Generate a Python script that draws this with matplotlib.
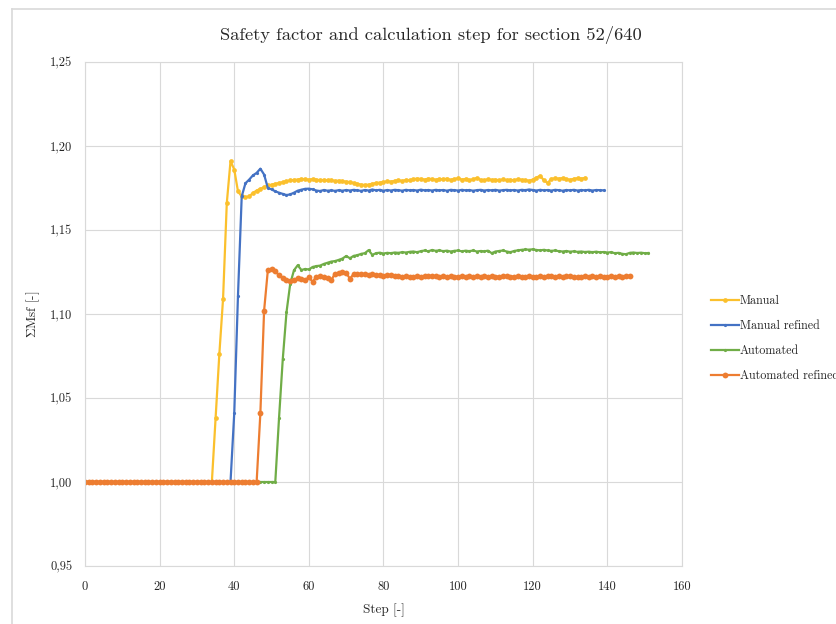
import matplotlib
matplotlib.use("Agg")
import matplotlib.pyplot as plt
from matplotlib.lines import Line2D
from matplotlib.ticker import FuncFormatter

plt.rcParams["font.family"] = ["cmr10", "DejaVu Serif"]
plt.rcParams["mathtext.fontset"] = "cm"
plt.rcParams["axes.formatter.use_mathtext"] = True

# Sum of safety factors per calculation step, section 52/640
manual_sf = [
    1.000, 1.000, 1.000, 1.000, 1.000, 1.000, 1.000, 1.000, 1.000, 1.000,
    1.000, 1.000, 1.000, 1.000, 1.000, 1.000, 1.000, 1.000, 1.000, 1.000,
    1.000, 1.000, 1.000, 1.000, 1.000, 1.000, 1.000, 1.000, 1.000, 1.000,
    1.000, 1.000, 1.000, 1.000, 1.000, 1.038, 1.076, 1.109, 1.166, 1.191,
    1.186, 1.173, 1.170, 1.1695, 1.170, 1.172, 1.1735, 1.1745, 1.1755, 1.1765,
    1.177, 1.1775, 1.178, 1.1785, 1.179, 1.1795, 1.1798, 1.180, 1.1804, 1.1802,
    1.180, 1.1803, 1.180, 1.1796, 1.1798, 1.1795, 1.1796, 1.1792, 1.1794, 1.179,
    1.1788, 1.1785, 1.178, 1.1775, 1.177, 1.1768, 1.177, 1.1775, 1.178, 1.1782,
    1.1785, 1.179, 1.1788, 1.1793, 1.1795, 1.1792, 1.1798, 1.1796, 1.1802, 1.1806,
    1.1804, 1.180, 1.1806, 1.1803, 1.1799, 1.1804, 1.1801, 1.1806, 1.1798, 1.1803,
    1.1808, 1.180, 1.1804, 1.1797, 1.1802, 1.181, 1.1799, 1.1795, 1.1803, 1.1798,
    1.180, 1.1796, 1.1801, 1.1797, 1.1799, 1.1795, 1.1803, 1.1799, 1.1797, 1.1793,
    1.180, 1.1812, 1.1823, 1.1795, 1.178, 1.1805, 1.1807, 1.1806, 1.1809, 1.1803,
    1.1799, 1.1805, 1.1808, 1.1806, 1.181,
]

manual_refined_sf = [
    1.000, 1.000, 1.000, 1.000, 1.000, 1.000, 1.000, 1.000, 1.000, 1.000,
    1.000, 1.000, 1.000, 1.000, 1.000, 1.000, 1.000, 1.000, 1.000, 1.000,
    1.000, 1.000, 1.000, 1.000, 1.000, 1.000, 1.000, 1.000, 1.000, 1.000,
    1.000, 1.000, 1.000, 1.000, 1.000, 1.000, 1.000, 1.000, 1.000, 1.000,
    1.041, 1.111, 1.170, 1.1778, 1.180, 1.1825, 1.184, 1.1865, 1.183, 1.175,
    1.1742, 1.173, 1.1722, 1.1715, 1.1708, 1.1712, 1.1722, 1.1734, 1.174, 1.1745,
    1.1746, 1.1742, 1.1735, 1.1732, 1.1738, 1.1734, 1.1736, 1.1733, 1.1737, 1.1734,
    1.1738, 1.1735, 1.1739, 1.1736, 1.1733, 1.1738, 1.1735, 1.1741, 1.1736, 1.1739,
    1.1734, 1.1738, 1.1735, 1.1739, 1.1737, 1.1734, 1.1739, 1.1736, 1.1738, 1.1735,
    1.174, 1.1736, 1.1738, 1.1735, 1.1739, 1.1736, 1.1738, 1.1734, 1.1739, 1.1737,
    1.1735, 1.1739, 1.1736, 1.1738, 1.1734, 1.1737, 1.1739, 1.1735, 1.1738, 1.1736,
    1.1739, 1.1735, 1.1737, 1.1739, 1.1736, 1.1738, 1.1735, 1.1739, 1.1737, 1.1741,
    1.1738, 1.1735, 1.1739, 1.1736, 1.1738, 1.1735, 1.1739, 1.1737, 1.1734, 1.1738,
    1.1736, 1.1739, 1.1735, 1.1738, 1.1736, 1.1739, 1.1735, 1.1738, 1.1737, 1.1736,
]

automated_sf = [
    1.000, 1.000, 1.000, 1.000, 1.000, 1.000, 1.000, 1.000, 1.000, 1.000,
    1.000, 1.000, 1.000, 1.000, 1.000, 1.000, 1.000, 1.000, 1.000, 1.000,
    1.000, 1.000, 1.000, 1.000, 1.000, 1.000, 1.000, 1.000, 1.000, 1.000,
    1.000, 1.000, 1.000, 1.000, 1.000, 1.000, 1.000, 1.000, 1.000, 1.000,
    1.000, 1.000, 1.000, 1.000, 1.000, 1.000, 1.000, 1.000, 1.000, 1.000,
    1.000, 1.000, 1.038, 1.073, 1.101, 1.118, 1.126, 1.129, 1.1262, 1.1268,
    1.1265, 1.128, 1.1285, 1.1288, 1.1298, 1.1305, 1.1312, 1.1315, 1.1322, 1.133,
    1.1345, 1.1332, 1.1346, 1.135, 1.1358, 1.1362, 1.138, 1.1352, 1.1362, 1.1365,
    1.136, 1.1364, 1.1362, 1.1366, 1.1364, 1.1368, 1.1366, 1.137, 1.1372, 1.1368,
    1.1374, 1.1378, 1.1373, 1.1381, 1.1376, 1.1379, 1.1374, 1.1377, 1.1372, 1.1376,
    1.1378, 1.1373, 1.1377, 1.1374, 1.1378, 1.1372, 1.1375, 1.1373, 1.1377, 1.1362,
    1.1372, 1.1375, 1.1378, 1.1372, 1.1368, 1.1375, 1.1379, 1.1382, 1.1384, 1.1383,
    1.1385, 1.1381, 1.1379, 1.1382, 1.1378, 1.1376, 1.1378, 1.1374, 1.1372, 1.1375,
    1.1371, 1.1373, 1.137, 1.1372, 1.1369, 1.1371, 1.1368, 1.1371, 1.1367, 1.1369,
    1.1366, 1.1368, 1.1362, 1.1364, 1.1358, 1.1356, 1.1364, 1.1366, 1.1363, 1.1365,
    1.1362, 1.1363,
]

automated_refined_sf = [
    1.000, 1.000, 1.000, 1.000, 1.000, 1.000, 1.000, 1.000, 1.000, 1.000,
    1.000, 1.000, 1.000, 1.000, 1.000, 1.000, 1.000, 1.000, 1.000, 1.000,
    1.000, 1.000, 1.000, 1.000, 1.000, 1.000, 1.000, 1.000, 1.000, 1.000,
    1.000, 1.000, 1.000, 1.000, 1.000, 1.000, 1.000, 1.000, 1.000, 1.000,
    1.000, 1.000, 1.000, 1.000, 1.000, 1.000, 1.000, 1.041, 1.102, 1.126,
    1.127, 1.1255, 1.123, 1.1215, 1.120, 1.1198, 1.1205, 1.1212, 1.1208, 1.1202,
    1.1218, 1.1192, 1.1222, 1.1225, 1.1218, 1.1215, 1.1202, 1.124, 1.1246, 1.1248,
    1.1245, 1.121, 1.1238, 1.124, 1.1236, 1.1238, 1.1234, 1.1236, 1.1233, 1.1231,
    1.1228, 1.1234, 1.1231, 1.1224, 1.1226, 1.1222, 1.1225, 1.1218, 1.1223, 1.1226,
    1.1222, 1.1225, 1.1224, 1.1228, 1.1224, 1.1221, 1.1225, 1.1222, 1.1226, 1.1223,
    1.1221, 1.1224, 1.1222, 1.1226, 1.1223, 1.1224, 1.1221, 1.1225, 1.1222, 1.1226,
    1.1223, 1.1221, 1.1224, 1.1227, 1.1223, 1.1222, 1.1225, 1.1223, 1.1221, 1.1224,
    1.1222, 1.1223, 1.1225, 1.1222, 1.1224, 1.1226, 1.1223, 1.1225, 1.1222, 1.1227,
    1.1224, 1.1221, 1.1218, 1.1223, 1.1226, 1.1222, 1.1224, 1.1221, 1.1225, 1.1223,
    1.1221, 1.1224, 1.1222, 1.1225, 1.1223, 1.1226, 1.1227,
]

series_labels = ["Manual", "Manual refined", "Automated", "Automated refined"]
series_values = [manual_sf, manual_refined_sf, automated_sf, automated_refined_sf]
series_colors = ["#FBC02D", "#4472C4", "#70AD47", "#ED7D31"]
marker_sizes = [3.4, 2.3, 2.3, 4.2]

x_ticks = [0, 20, 40, 60, 80, 100, 120, 140, 160]
y_ticks = [0.95, 1.00, 1.05, 1.10, 1.15, 1.20, 1.25]

fig = plt.figure(figsize=(8.37, 6.24), dpi=100)
ax = fig.add_axes([85 / 837, 1 - 566 / 624, (682 - 85) / 837, (566 - 62) / 624])

for label, vals, color, ms in zip(series_labels, series_values, series_colors, marker_sizes):
    steps = list(range(len(vals)))
    ax.plot(steps, vals, color=color, lw=1.6, marker="o", ms=ms,
            markeredgewidth=0, label=label, solid_joinstyle="round")

ax.set_xlim(0, 160)
ax.set_ylim(0.95, 1.25)
ax.set_xticks(x_ticks)
ax.set_yticks(y_ticks)
ax.yaxis.set_major_formatter(FuncFormatter(lambda v, p: f"{v:.2f}".replace(".", ",")))
ax.xaxis.set_major_formatter(FuncFormatter(lambda v, p: f"{v:.0f}"))
ax.tick_params(length=0, labelsize=9, colors="#262626")
ax.tick_params(axis="y", pad=9)
ax.tick_params(axis="x", pad=11)
ax.grid(True, color="#D9D9D9", lw=0.8)
ax.set_axisbelow(True)
for sp in ax.spines.values():
    sp.set_color("#D9D9D9")
    sp.set_linewidth(0.8)

ax.set_xlabel("Step [-]", fontsize=9.5, labelpad=7, color="#262626")
ax.set_ylabel(r"$\Sigma$Msf [-]", fontsize=9.5, labelpad=6, color="#262626")

fig.text(431 / 837, 1 - 35 / 624, "Safety factor and calculation step for section 52/640",
         ha="center", va="center", fontsize=13.3, color="#262626")

fig.legend(loc="center left", bbox_to_anchor=(711 / 837, 1 - 338.5 / 624),
           frameon=False, fontsize=8.7, borderpad=0, borderaxespad=0,
           handlelength=2.3, handletextpad=0.1, labelspacing=1.07,
           labelcolor="#262626")

# chart area border
fig.add_artist(Line2D([12 / 837, 12 / 837], [0, 1 - 9 / 624], color="#D9D9D9", lw=1.2))
fig.add_artist(Line2D([12 / 837, 1], [1 - 9 / 624, 1 - 9 / 624], color="#D9D9D9", lw=1.2))

fig.savefig("out.png", dpi=100)
